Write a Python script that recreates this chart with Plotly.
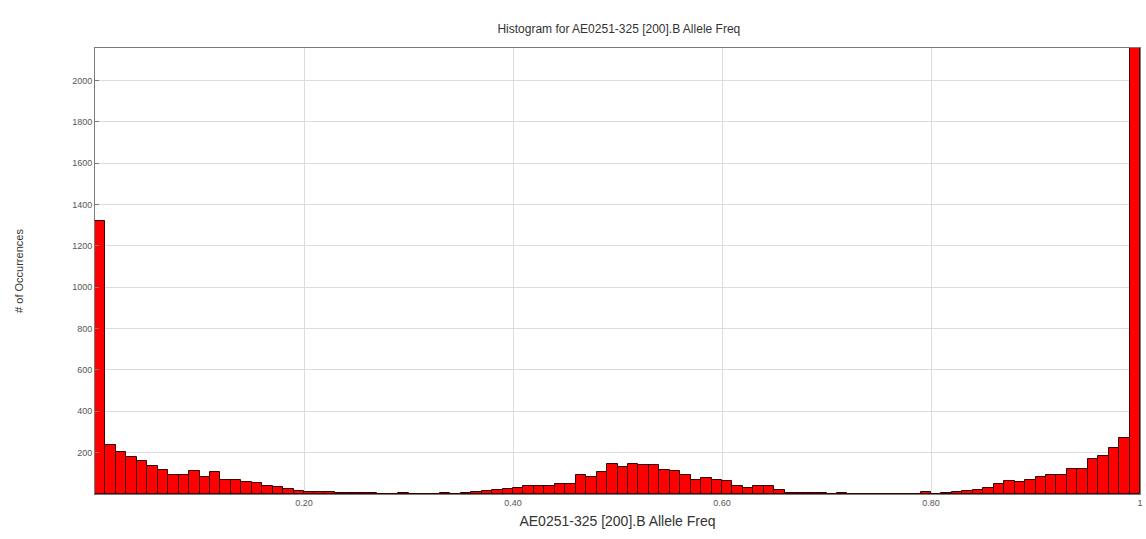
import numpy as np
import plotly.graph_objects as go

# Histogram of B allele frequency, 100 bins of width 0.01 over [0, 1]
bin_width = 0.01
bin_starts = [round(i * bin_width, 2) for i in range(100)]
counts = [
    1318, 236, 202, 180, 158, 134, 118, 94, 94, 110,
    81, 105, 67, 66, 60, 52, 40, 32, 22, 15,
    12, 10, 10, 5, 5, 5, 5, 0, 0, 5,
    0, 0, 0, 5, 0, 5, 12, 15, 20, 25,
    30, 38, 38, 40, 49, 49, 94, 81, 105, 147,
    131, 147, 138, 138, 118, 113, 94, 70, 78, 70,
    62, 40, 30, 40, 40, 20, 5, 5, 5, 5,
    0, 5, 0, 0, 0, 0, 0, 0, 0, 10,
    0, 5, 10, 15, 20, 30, 46, 65, 57, 70,
    83, 94, 94, 122, 122, 170, 186, 223, 271, 2600,
]
x_tick_vals = [0.2, 0.4, 0.6, 0.8, 1.0]
x_tick_text = ["0.20", "0.40", "0.60", "0.80", "1"]
y_tick_vals = [200, 400, 600, 800, 1000, 1200, 1400, 1600, 1800, 2000]

title_text = "Histogram for AE0251-325 [200].B Allele Freq"
x_title = "AE0251-325 [200].B Allele Freq"
y_title = "# of Occurrences"

bin_centers = np.array(bin_starts) + bin_width / 2

fig = go.Figure(
    go.Bar(
        x=bin_centers,
        y=counts,
        width=bin_width,
        marker=dict(color="#ff0000", line=dict(color="#3a0000", width=1)),
    )
)

fig.update_layout(
    width=1146,
    height=539,
    margin=dict(l=95, r=3, t=48, b=45),
    paper_bgcolor="white",
    plot_bgcolor="white",
    bargap=0,
    showlegend=False,
    font=dict(family="Liberation Sans, Arial, sans-serif", color="#444"),
    title=dict(
        text=title_text,
        x=0.54,
        xanchor="center",
        y=0.946,
        yanchor="middle",
        font=dict(size=12, color="#333"),
    ),
)

fig.update_xaxes(
    range=[0, 1],
    tickvals=x_tick_vals,
    ticktext=x_tick_text,
    tickfont=dict(size=9, color="#555"),
    showgrid=True,
    gridcolor="#dcdcdc",
    gridwidth=1,
    showline=True,
    linecolor="#7a7a7a",
    linewidth=1,
    mirror=True,
    ticks="",
    zeroline=False,
    title=dict(text=x_title, font=dict(size=14, color="#333"), standoff=9),
)

fig.update_yaxes(
    range=[0, 2157],
    tickvals=y_tick_vals,
    tickfont=dict(size=9, color="#555"),
    showgrid=True,
    gridcolor="#dcdcdc",
    gridwidth=1,
    showline=True,
    linecolor="#7a7a7a",
    linewidth=1,
    mirror=True,
    ticks="inside",
    ticklen=4,
    tickcolor="#7a7a7a",
    zeroline=False,
    title=dict(text=y_title, font=dict(size=11, color="#333"), standoff=46),
)

fig.write_html("out.html")
